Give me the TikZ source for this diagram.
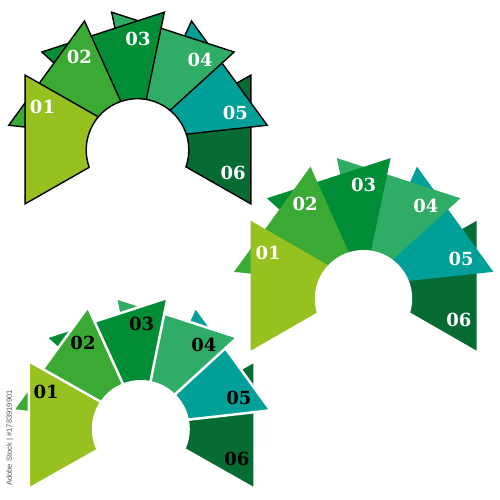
\documentclass[tikz,border=0pt]{standalone}
\usepackage{fontspec}
\newfontfamily\numfont{DejaVu Serif}
\newfontfamily\wmfont{Liberation Sans}
\definecolor{cA}{RGB}{151,193,31}
\definecolor{cB}{RGB}{59,170,53}
\definecolor{cC}{RGB}{0,141,54}
\definecolor{cD}{RGB}{47,172,102}
\definecolor{cE}{RGB}{0,160,153}
\definecolor{cF}{RGB}{7,107,52}
\tikzset{
  lbl/.style={font=\numfont\bfseries\fontsize{18}{20}\selectfont, inner sep=0pt},
  blackedge/.style={draw=black, line width=1.4, line join=miter},
  whiteedge/.style={draw=white, line width=2.5, line join=miter},
  noedge/.style={},
  wmark/.style={font=\wmfont\fontsize{7.6}{8}\selectfont, text=black!65, rotate=90, inner sep=0pt}
}
% #1 prefix, #2 Ax, #3 Ay, #4 R, #5 half angle, #6 Cx, #7 Cy, #8 hole radius, #9 edge style
\newcommand\drawfan[9]{%
  \coordinate (#1A) at (#2,#3);
  \coordinate (#1C) at (#6,#7);
  \foreach \i/\c in {6/cF,5/cE,4/cD,3/cC,2/cB,1/cA}{
    \pgfmathsetmacro\md{180-36*(\i-1)}
    \path[#9, fill=\c] (#1A) -- ([shift={(\md+#5:#4)}]#1A) -- ([shift={(\md-#5:#4)}]#1A) -- cycle;
  }
  \fill[white] (#1C) circle (#8);
}
% #1 prefix, #2 text colour
\newcommand\fanlabels[2]{%
  \foreach \i/\a in {1/161,2/125.5,3/90,4/52,5/15.5,6/-19.6}{
    \node[lbl, text=#2] (#1L\i) at ([shift={(\a:101)}]#1A) {0\i};
  }
}
\begin{document}
\begin{tikzpicture}[x=1pt,y=1pt]
  \useasboundingbox (0,0) rectangle (500,500);
  % top-left fan, black outlines
  \drawfan{p}{138}{360.5}{130}{29.7}{137.5}{350}{51.3}{blackedge}
  \draw[line width=1.4] (pC) ++(200:51.3) arc[start angle=200, end angle=-20, radius=51.3];
  \fanlabels{p}{white}
  % middle-right fan, no outlines
  \drawfan{q}{363.7}{214.3}{130.4}{29.9}{363.5}{201.3}{48.7}{noedge}
  \fanlabels{q}{white}
  % bottom-left fan, white gaps
  \drawfan{s}{141.65}{75}{129.7}{29.5}{140.8}{71}{49}{whiteedge}
  \fanlabels{s}{black}
  \node[wmark] (wm) at (10,62) {Adobe Stock | \#1783919901};
\end{tikzpicture}
\end{document}
